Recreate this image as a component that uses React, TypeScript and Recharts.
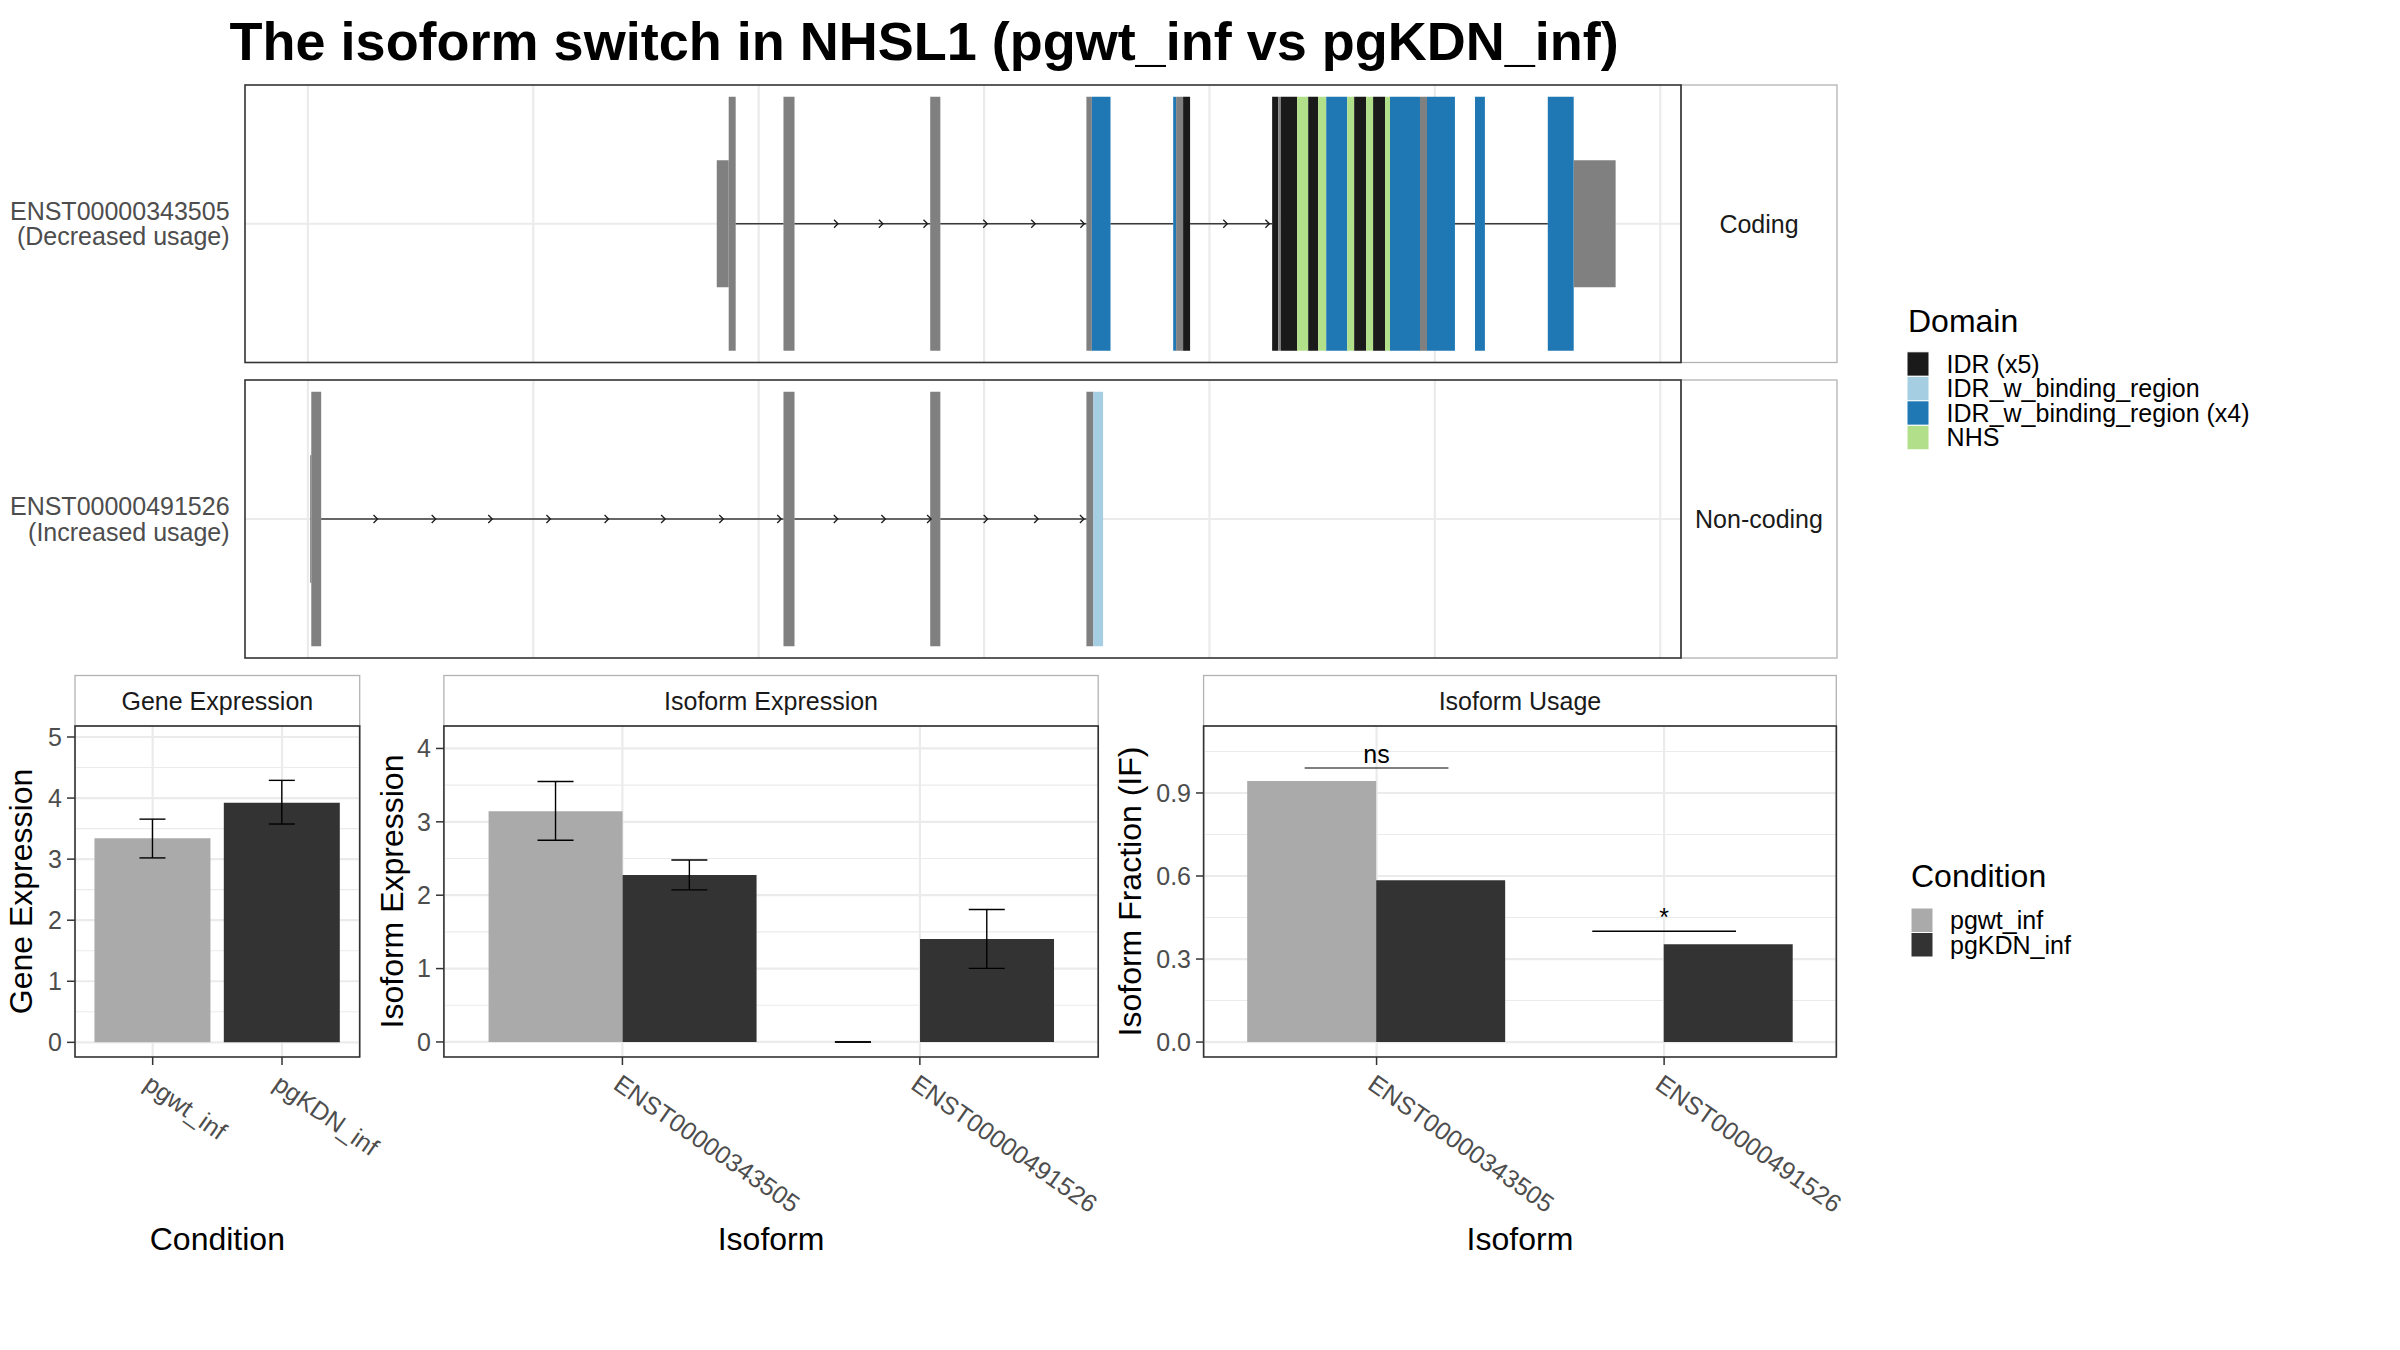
import React from "react";
import {
  ScatterChart,
  Scatter,
  BarChart,
  Bar,
  ErrorBar,
  Cell,
  XAxis,
  YAxis,
  CartesianGrid,
  ReferenceArea,
  ReferenceLine,
} from "recharts";

const FONT = '"Liberation Sans", Arial, Helvetica, sans-serif';

// ---------- data ----------
const domainNames = ["IDR (x5)", "IDR_w_binding_region", "IDR_w_binding_region (x4)", "NHS"];
const domainColors = ["#1a1a1a", "#a6cee3", "#1f78b4", "#b2df8a"];

// genomic positions in arbitrary units (grid lines every 100)
const gridPositions = [0, 100, 200, 300, 400, 500, 600];

// [kind, start, end]  kind: "utr" | "cds" | domain name
const tx1Segments: [string, number, number][] = [
  ["utr", 181.4, 186.7],
  ["cds", 186.7, 189.8],
  ["cds", 211.0, 215.9],
  ["cds", 276.1, 280.6],
  ["cds", 345.4, 347.8],
  ["IDR_w_binding_region (x4)", 347.8, 356.1],
  ["IDR_w_binding_region (x4)", 383.9, 385.2],
  ["cds", 385.2, 388.3],
  ["IDR (x5)", 388.3, 391.4],
  ["IDR (x5)", 427.8, 430.5],
  ["cds", 430.5, 431.6],
  ["IDR (x5)", 431.6, 438.9],
  ["NHS", 438.9, 443.8],
  ["IDR (x5)", 443.8, 448.2],
  ["NHS", 448.2, 451.8],
  ["IDR_w_binding_region (x4)", 451.8, 461.1],
  ["NHS", 461.1, 464.2],
  ["IDR (x5)", 464.2, 469.5],
  ["NHS", 469.5, 472.6],
  ["IDR (x5)", 472.6, 477.9],
  ["NHS", 477.9, 480.1],
  ["IDR_w_binding_region (x4)", 480.1, 493.4],
  ["cds", 493.4, 496.5],
  ["IDR_w_binding_region (x4)", 496.5, 508.9],
  ["IDR_w_binding_region (x4)", 517.8, 522.2],
  ["IDR_w_binding_region (x4)", 550.1, 561.6],
  ["utr", 561.6, 580.2],
];
const tx1Introns: [number, number][] = [
  [189.8, 211.0], [215.9, 276.1], [280.6, 345.4], [356.1, 383.9],
  [391.4, 427.8], [508.9, 517.8], [522.2, 550.1],
];
const tx1Arrows = [235.2, 255.1, 274.9, 301.4, 322.7, 344.5, 407.9, 426.6];

const tx2Segments: [string, number, number][] = [
  ["utr", 1.0, 1.5],
  ["cds", 1.5, 5.9],
  ["cds", 211.0, 215.9],
  ["cds", 276.1, 280.6],
  ["cds", 345.4, 348.5],
  ["IDR_w_binding_region", 348.5, 352.8],
];
const tx2Introns: [number, number][] = [[5.9, 211.0], [215.9, 276.1], [280.6, 345.4]];
const tx2Arrows = [30.9, 56.7, 81.8, 107.6, 133.4, 158.5, 184.3, 210.0, 235.1, 256.2, 276.5, 301.6, 324.0, 344.3];

const conditions = ["pgwt_inf", "pgKDN_inf"];
const conditionColors = ["#AAAAAA", "#333333"];

const geneExpr = [3.34, 3.925];
const geneLow = [3.02, 3.575];
const geneHigh = [3.655, 4.29];

const isoforms = ["ENST00000343505", "ENST00000491526"];
const isoExprWt = [3.143, 0];
const isoExprWtLow = [2.748, 0];
const isoExprWtHigh = [3.55, 0];
const isoExprKdn = [2.274, 1.404];
const isoExprKdnLow = [2.073, 1.003];
const isoExprKdnHigh = [2.48, 1.805];

const isoUsageWt = [0.9435, 0];
const isoUsageKdn = [0.585, 0.353];
const sigLabels = ["ns", "*"];
const sigX1 = [0.75, 1.75];
const sigX2 = [1.25, 2.25];
const sigY = [0.99, 0.4];

// ---------- layout ----------
const TOP_X0 = 245;
const TOP_X1 = 1681;
const STRIP_X1 = 1837;
const ROWS = [
  { top: 85, bottom: 362.5, label: ["ENST00000343505", "(Decreased usage)"], strip: "Coding" },
  { top: 380, bottom: 658, label: ["ENST00000491526", "(Increased usage)"], strip: "Non-coding" },
];
const STRIP_TOP = 675.5;
const PLOT_TOP = 726;
const PLOT_BOTTOM = 1057;
const X_AXIS_H = 200;
const EXTRA_R = 90;
const DODGE = 0.225; // half of the 0.9 dodge width, in category units
const PANELS = {
  gene: { x0: 75, x1: 359.7, yw: 75, title: "Gene Expression", xTitle: "Condition", yTitle: "Gene Expression", yTitleX: 32 },
  iso: { x0: 443.9, x1: 1098.2, yw: 60, title: "Isoform Expression", xTitle: "Isoform", yTitle: "Isoform Expression", yTitleX: 403 },
  usage: { x0: 1203.6, x1: 1836.3, yw: 60, title: "Isoform Usage", xTitle: "Isoform", yTitle: "Isoform Fraction (IF)", yTitleX: 1141 },
};
const ISO_DOMAIN: [number, number] = [-0.205, 4.306];
const USAGE_DOMAIN: [number, number] = [-0.054, 1.142];
const CAT_DOMAIN: [number, number] = [0.4, 2.6];

const colorOf = (kind: string) => {
  const i = domainNames.indexOf(kind);
  return i >= 0 ? domainColors[i] : "#808080";
};

const Chevron = (props: any) => {
  const { cx, cy } = props;
  if (cx == null || cy == null) return null;
  return (
    <path
      d={`M${cx - 4},${cy - 4}L${cx},${cy}L${cx - 4},${cy + 4}`}
      fill="none"
      stroke="#1a1a1a"
      strokeWidth={1.3}
    />
  );
};

const NoShape = () => <g />;

const TranscriptPanel = ({
  top,
  height,
  segments,
  introns,
  arrows,
}: {
  top: number;
  height: number;
  segments: [string, number, number][];
  introns: [number, number][];
  arrows: number[];
}) => {
  const w = TOP_X1 - TOP_X0;
  const arrowData = arrows.map((x) => ({ x, y: 0 }));
  return (
    <div style={{ position: "absolute", left: TOP_X0, top, width: w, height }}>
      <ScatterChart width={w} height={height} margin={{ top: 0, right: 0, bottom: 0, left: 0 }}>
        <XAxis type="number" dataKey="x" domain={[-27.9, 609.2]} hide allowDataOverflow />
        <YAxis type="number" dataKey="y" domain={[-1, 1]} hide allowDataOverflow />
        <CartesianGrid
          verticalValues={gridPositions}
          horizontalValues={[0]}
          stroke="#ebebeb"
          strokeWidth={2.2}
        />
        {introns.map(([a, b], i) => (
          <ReferenceLine
            key={"i" + i}
            segment={[{ x: a, y: 0 }, { x: b, y: 0 }]}
            stroke="#3a3a3a"
            strokeWidth={1.6}
            ifOverflow="visible"
          />
        ))}
        {segments.map(([kind, a, b], i) => {
          const h = kind === "utr" ? 0.458 : 0.915;
          return (
            <ReferenceArea
              key={"s" + i}
              x1={a}
              x2={b}
              y1={-h}
              y2={h}
              fill={colorOf(kind)}
              fillOpacity={1}
              stroke="none"
              ifOverflow="visible"
            />
          );
        })}
        <Scatter data={arrowData} shape={Chevron} isAnimationActive={false} />
      </ScatterChart>
    </div>
  );
};

const SlantTick = (props: any) => {
  const { x, y, payload } = props;
  return (
    <text
      x={x}
      y={y}
      dy="0.72em"
      transform={`rotate(35 ${x} ${y})`}
      textAnchor="start"
      fill="#4d4d4d"
      fontSize={25}
      fontFamily={FONT}
    >
      {payload.value}
    </text>
  );
};

const yTick = { fill: "#4d4d4d", fontSize: 25, fontFamily: FONT };
const tickLine = { stroke: "#333333", strokeWidth: 1.5 };

const geneData = conditions.map((c, i) => ({
  name: c,
  value: geneExpr[i],
  err: [geneExpr[i] - geneLow[i], geneHigh[i] - geneExpr[i]],
}));

const isoExprData = isoforms.map((iso, i) => ({
  name: iso,
  wt: isoExprWt[i],
  kdn: isoExprKdn[i],
}));

// error bars of the dodged bars, on a numeric copy of the category axis (categories at 1 and 2)
const isoErrData = isoforms.flatMap((iso, i) => [
  { x: i + 1 - DODGE, y: isoExprWt[i], err: [isoExprWt[i] - isoExprWtLow[i], isoExprWtHigh[i] - isoExprWt[i]] },
  { x: i + 1 + DODGE, y: isoExprKdn[i], err: [isoExprKdn[i] - isoExprKdnLow[i], isoExprKdnHigh[i] - isoExprKdn[i]] },
]);

const isoUsageData = isoforms.map((iso, i) => ({
  name: iso,
  wt: isoUsageWt[i],
  kdn: isoUsageKdn[i],
}));

const sigPoints = sigLabels.map((s, i) => ({ x: (sigX1[i] + sigX2[i]) / 2, y: sigY[i], label: s }));

const chartBox = (p: { x0: number; x1: number; yw: number }) => ({
  left: p.x0 - p.yw,
  width: p.x1 - p.x0 + p.yw + EXTRA_R,
  height: PLOT_BOTTOM - PLOT_TOP + X_AXIS_H,
});

const chartMargin = { top: 0, right: EXTRA_R, bottom: 0, left: 0 };
const zeroMargin = { top: 0, right: 0, bottom: 0, left: 0 };

const GeneChart = () => {
  const p = PANELS.gene;
  const b = chartBox(p);
  return (
    <div style={{ position: "absolute", left: b.left, top: PLOT_TOP }}>
      <BarChart
        width={b.width}
        height={b.height}
        data={geneData}
        margin={chartMargin}
        barCategoryGap="5%"
        barGap={0}
      >
        <CartesianGrid horizontalValues={[0.5, 1.5, 2.5, 3.5, 4.5]} vertical={false} stroke="#ebebeb" strokeWidth={1.1} />
        <CartesianGrid horizontalValues={[0, 1, 2, 3, 4, 5]} stroke="#ebebeb" strokeWidth={2.2} />
        <XAxis
          dataKey="name"
          height={X_AXIS_H}
          padding={{ left: 13, right: 13 }}
          axisLine={false}
          tickLine={tickLine}
          tickSize={8}
          tickMargin={8}
          interval={0}
          tick={<SlantTick />}
        />
        <YAxis
          type="number"
          width={p.yw}
          domain={[-0.24, 5.18]}
          ticks={[0, 1, 2, 3, 4, 5]}
          allowDataOverflow
          axisLine={false}
          tickLine={tickLine}
          tickSize={8}
          tickMargin={5}
          interval={0}
          tick={yTick}
        />
        <Bar dataKey="value" isAnimationActive={false}>
          {geneData.map((d, i) => (
            <Cell key={d.name} fill={conditionColors[i]} />
          ))}
          <ErrorBar dataKey="err" width={13} stroke="#000" strokeWidth={1.4} direction="y" isAnimationActive={false} />
        </Bar>
      </BarChart>
    </div>
  );
};

const IsoExprChart = () => {
  const p = PANELS.iso;
  const b = chartBox(p);
  const pw = p.x1 - p.x0;
  const ph = PLOT_BOTTOM - PLOT_TOP;
  return (
    <>
      <div style={{ position: "absolute", left: b.left, top: PLOT_TOP }}>
        <BarChart
          width={b.width}
          height={b.height}
          data={isoExprData}
          margin={chartMargin}
          barCategoryGap="5%"
          barGap={0}
        >
          <CartesianGrid horizontalValues={[0.5, 1.5, 2.5, 3.5]} vertical={false} stroke="#ebebeb" strokeWidth={1.1} />
          <CartesianGrid horizontalValues={[0, 1, 2, 3, 4]} stroke="#ebebeb" strokeWidth={2.2} />
          <XAxis
            dataKey="name"
            height={X_AXIS_H}
            padding={{ left: 29.7, right: 29.7 }}
            axisLine={false}
            tickLine={tickLine}
            tickSize={8}
            tickMargin={8}
            interval={0}
            tick={<SlantTick />}
          />
          <YAxis
            type="number"
            width={p.yw}
            domain={ISO_DOMAIN}
            ticks={[0, 1, 2, 3, 4]}
            allowDataOverflow
            axisLine={false}
            tickLine={tickLine}
            tickSize={8}
            tickMargin={5}
            interval={0}
            tick={yTick}
          />
          <Bar dataKey="wt" fill={conditionColors[0]} isAnimationActive={false} />
          <Bar dataKey="kdn" fill={conditionColors[1]} isAnimationActive={false} />
        </BarChart>
      </div>
      <div style={{ position: "absolute", left: p.x0, top: PLOT_TOP, width: pw, height: ph }}>
        <ScatterChart width={pw} height={ph} margin={zeroMargin}>
          <XAxis type="number" dataKey="x" domain={CAT_DOMAIN} hide allowDataOverflow />
          <YAxis type="number" dataKey="y" domain={ISO_DOMAIN} hide allowDataOverflow />
          <Scatter data={isoErrData} shape={NoShape} isAnimationActive={false}>
            <ErrorBar dataKey="err" width={18} stroke="#000" strokeWidth={1.4} direction="y" isAnimationActive={false} />
          </Scatter>
        </ScatterChart>
      </div>
    </>
  );
};

const SigText = (props: any) => {
  const { cx, cy, payload } = props;
  if (cx == null || cy == null) return null;
  return (
    <text x={cx} y={cy - 5} textAnchor="middle" fontSize={25} fontFamily={FONT} fill="#000">
      {payload?.label}
    </text>
  );
};

const IsoUsageChart = () => {
  const p = PANELS.usage;
  const b = chartBox(p);
  const pw = p.x1 - p.x0;
  const ph = PLOT_BOTTOM - PLOT_TOP;
  return (
    <>
      <div style={{ position: "absolute", left: b.left, top: PLOT_TOP }}>
        <BarChart
          width={b.width}
          height={b.height}
          data={isoUsageData}
          margin={chartMargin}
          barCategoryGap="5%"
          barGap={0}
        >
          <CartesianGrid horizontalValues={[0.15, 0.45, 0.75, 1.05]} vertical={false} stroke="#ebebeb" strokeWidth={1.1} />
          <CartesianGrid horizontalValues={[0, 0.3, 0.6, 0.9]} stroke="#ebebeb" strokeWidth={2.2} />
          <XAxis
            dataKey="name"
            height={X_AXIS_H}
            padding={{ left: 28.8, right: 28.8 }}
            axisLine={false}
            tickLine={tickLine}
            tickSize={8}
            tickMargin={8}
            interval={0}
            tick={<SlantTick />}
          />
          <YAxis
            type="number"
            width={p.yw}
            domain={USAGE_DOMAIN}
            ticks={[0, 0.3, 0.6, 0.9]}
            tickFormatter={(v: number) => v.toFixed(1)}
            allowDataOverflow
            axisLine={false}
            tickLine={tickLine}
            tickSize={8}
            tickMargin={5}
            interval={0}
            tick={yTick}
          />
          <Bar dataKey="wt" fill={conditionColors[0]} isAnimationActive={false} />
          <Bar dataKey="kdn" fill={conditionColors[1]} isAnimationActive={false} />
        </BarChart>
      </div>
      <div style={{ position: "absolute", left: p.x0, top: PLOT_TOP, width: pw, height: ph }}>
        <ScatterChart width={pw} height={ph} margin={zeroMargin}>
          <XAxis type="number" dataKey="x" domain={CAT_DOMAIN} hide allowDataOverflow />
          <YAxis type="number" dataKey="y" domain={USAGE_DOMAIN} hide allowDataOverflow />
          {sigLabels.map((s, i) => (
            <ReferenceLine
              key={s}
              segment={[{ x: sigX1[i], y: sigY[i] }, { x: sigX2[i], y: sigY[i] }]}
              stroke={i === 0 ? "#555555" : "#000000"}
              strokeWidth={1.5}
              ifOverflow="visible"
            />
          ))}
          <Scatter data={sigPoints} shape={SigText} isAnimationActive={false} />
        </ScatterChart>
      </div>
    </>
  );
};

const Overlay = () => {
  const panels = [PANELS.gene, PANELS.iso, PANELS.usage];
  const legendRow = 24.5;
  return (
    <svg
      width={2400}
      height={1350}
      style={{ position: "absolute", left: 0, top: 0, pointerEvents: "none" }}
      fontFamily={FONT}
    >
      <text x={229.6} y={60} fontSize={54} fontWeight="bold" fill="#000">
        The isoform switch in NHSL1 (pgwt_inf vs pgKDN_inf)
      </text>

      {ROWS.map((r) => {
        const c = (r.top + r.bottom) / 2;
        return (
          <g key={r.strip}>
            <rect x={TOP_X1} y={r.top} width={STRIP_X1 - TOP_X1} height={r.bottom - r.top} fill="none" stroke="#b3b3b3" strokeWidth={1.3} />
            <rect x={TOP_X0} y={r.top} width={TOP_X1 - TOP_X0} height={r.bottom - r.top} fill="none" stroke="#333333" strokeWidth={1.6} />
            <text x={(TOP_X1 + STRIP_X1) / 2} y={c + 9} textAnchor="middle" fontSize={25} fill="#1a1a1a">
              {r.strip}
            </text>
            <text x={229.6} y={c - 4} textAnchor="end" fontSize={25} fill="#4d4d4d">
              {r.label[0]}
            </text>
            <text x={229.6} y={c + 21.5} textAnchor="end" fontSize={25} fill="#4d4d4d">
              {r.label[1]}
            </text>
          </g>
        );
      })}

      {panels.map((p) => {
        const cx = (p.x0 + p.x1) / 2;
        return (
          <g key={p.title}>
            <rect x={p.x0} y={STRIP_TOP} width={p.x1 - p.x0} height={PLOT_TOP - STRIP_TOP} fill="#fff" stroke="#b3b3b3" strokeWidth={1.3} />
            <rect x={p.x0} y={PLOT_TOP} width={p.x1 - p.x0} height={PLOT_BOTTOM - PLOT_TOP} fill="none" stroke="#333333" strokeWidth={1.6} />
            <text x={cx} y={(STRIP_TOP + PLOT_TOP) / 2 + 9} textAnchor="middle" fontSize={25} fill="#1a1a1a">
              {p.title}
            </text>
            <text x={cx} y={1250} textAnchor="middle" fontSize={32} fill="#000">
              {p.xTitle}
            </text>
            <text
              transform={`translate(${p.yTitleX},${(PLOT_TOP + PLOT_BOTTOM) / 2}) rotate(-90)`}
              textAnchor="middle"
              fontSize={32}
              fill="#000"
            >
              {p.yTitle}
            </text>
          </g>
        );
      })}

      <text x={1908} y={331.7} fontSize={32} fill="#000">Domain</text>
      {domainNames.map((d, i) => (
        <g key={d}>
          <rect x={1907} y={351.8 + i * legendRow} width={22} height={legendRow} fill={domainColors[i]} stroke="#fff" strokeWidth={1} />
          <text x={1946.6} y={351.8 + i * legendRow + legendRow / 2 + 8.9} fontSize={25} fill="#000">
            {d}
          </text>
        </g>
      ))}

      <text x={1911} y={886.6} fontSize={32} fill="#000">Condition</text>
      {conditions.map((c, i) => (
        <g key={c}>
          <rect x={1911} y={908 + i * legendRow} width={22} height={legendRow} fill={conditionColors[i]} stroke="#fff" strokeWidth={1} />
          <text x={1950} y={908 + i * legendRow + legendRow / 2 + 8.9} fontSize={25} fill="#000">
            {c}
          </text>
        </g>
      ))}
    </svg>
  );
};

export default function App() {
  return (
    <div
      style={{
        position: "absolute",
        left: 0,
        top: 0,
        width: 2400,
        height: 1350,
        background: "#fff",
        fontFamily: FONT,
        overflow: "hidden",
      }}
    >
      {ROWS.map((r, i) => (
        <TranscriptPanel
          key={r.strip}
          top={r.top}
          height={r.bottom - r.top}
          segments={i === 0 ? tx1Segments : tx2Segments}
          introns={i === 0 ? tx1Introns : tx2Introns}
          arrows={i === 0 ? tx1Arrows : tx2Arrows}
        />
      ))}
      <GeneChart />
      <IsoExprChart />
      <IsoUsageChart />
      <Overlay />
    </div>
  );
}
